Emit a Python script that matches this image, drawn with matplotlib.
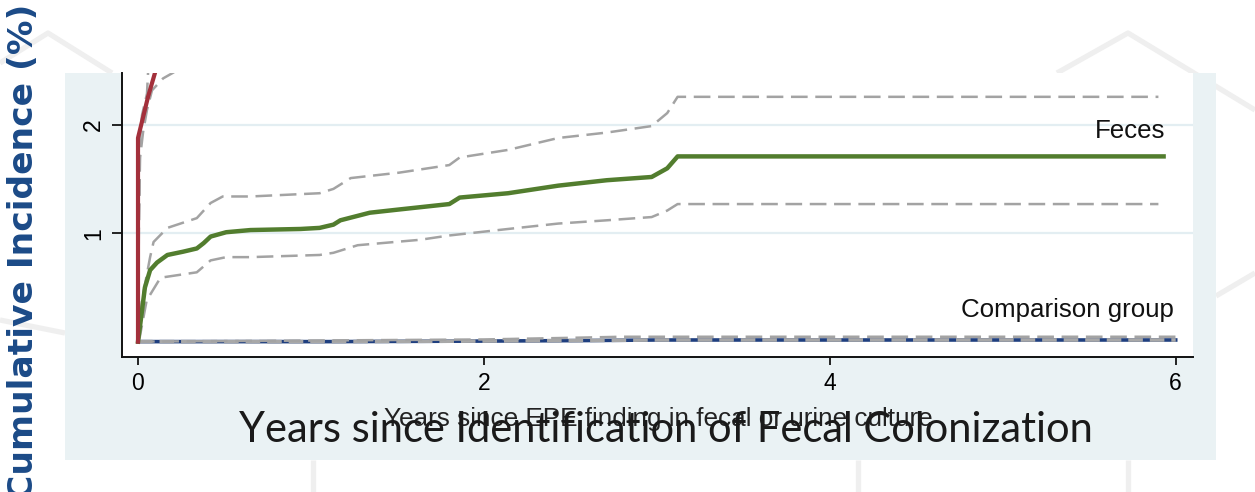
import numpy as np
import matplotlib
matplotlib.use("Agg")
import matplotlib.pyplot as plt
from matplotlib.lines import Line2D
from matplotlib.patches import Rectangle

plt.rcParams['lines.scale_dashes'] = False

# cumulative incidence curves (years, %)
urine_x = [0, 0, 0.029, 0.058, 0.098, 0.14]
urine_y = [0, 1.88, 2.07, 2.26, 2.48, 2.75]
urine_hi_x = [0, 0.006, 0.012, 0.023, 0.052, 0.058, 0.075]
urine_hi_y = [0, 1.2, 1.88, 2.09, 2.29, 2.48, 2.8]
urine_lo_x = [0, 0.004, 0.012, 0.029, 0.052, 0.081, 0.145, 0.2, 0.3]
urine_lo_y = [0, 1.0, 1.7, 1.93, 2.14, 2.32, 2.43, 2.48, 2.58]

feces_x = [0, 0.021, 0.04, 0.07, 0.11, 0.17, 0.26, 0.34, 0.38, 0.42, 0.51, 0.65,
           0.94, 1.05, 1.13, 1.17, 1.34, 1.51, 1.80, 1.86, 2.14, 2.43, 2.71, 2.97,
           3.06, 3.12, 5.93]
feces_y = [0, 0.26, 0.50, 0.66, 0.73, 0.80, 0.83, 0.86, 0.91, 0.97, 1.01, 1.03,
           1.04, 1.05, 1.08, 1.12, 1.19, 1.22, 1.27, 1.33, 1.37, 1.44, 1.49, 1.52,
           1.60, 1.71, 1.71]
feces_hi_x = [0, 0.01, 0.023, 0.07, 0.09, 0.17, 0.34, 0.42, 0.49, 0.65, 1.05, 1.13,
              1.23, 1.51, 1.80, 1.86, 2.14, 2.43, 2.71, 2.97, 3.06, 3.12, 5.9]
feces_hi_y = [0, 0.2, 0.38, 0.78, 0.92, 1.05, 1.14, 1.28, 1.34, 1.34, 1.37, 1.41,
              1.51, 1.56, 1.63, 1.70, 1.77, 1.88, 1.93, 1.99, 2.11, 2.26, 2.26]
feces_lo_x = [0, 0.01, 0.05, 0.13, 0.34, 0.42, 0.51, 0.65, 1.05, 1.13, 1.27, 1.63,
              1.80, 2.14, 2.43, 2.71, 2.97, 3.06, 3.12, 5.9]
feces_lo_y = [0, 0.04, 0.38, 0.59, 0.64, 0.75, 0.78, 0.78, 0.80, 0.82, 0.89, 0.94,
              0.98, 1.04, 1.09, 1.12, 1.15, 1.21, 1.27, 1.27]

comp_x = [0, 1.1, 2.0, 2.6, 3.0, 6.0]
comp_y = [0, 0.0, 0.005, 0.01, 0.015, 0.015]
comp_hi_x = [0, 1.0, 1.5, 2.0, 2.5, 2.8, 6.0]
comp_hi_y = [0, 0.01, 0.015, 0.02, 0.035, 0.045, 0.045]

xticks = [0, 2, 4, 6]
yticks = [1, 2]

W, H = 1255, 492


def fx(px):
    return px / W


def fy(py):
    return 1 - py / H


fig = plt.figure(figsize=(W / 100, H / 100), dpi=100)
fig.patch.set_facecolor('white')

# faint house outlines in the slide background
deco = '#efefef'
for xs, ys in [([0, 48, 112], [63, 33, 73]),
               ([1057, 1128, 1255], [73, 33, 110]),
               ([1216, 1255], [296, 273]),
               ([0, 65], [320, 333]),
               ([313, 313], [460, 492]),
               ([858, 858], [460, 492]),
               ([1128, 1128], [460, 492])]:
    fig.add_artist(Line2D([fx(v) for v in xs], [fy(v) for v in ys],
                          color=deco, lw=3.8, solid_capstyle='butt', zorder=0))

# graph region
fig.add_artist(Rectangle((fx(65), fy(460)), fx(1216) - fx(65), fy(73) - fy(460),
                         transform=fig.transFigure, facecolor='#eaf2f4',
                         edgecolor='none', zorder=1))

ax = fig.add_axes([fx(122), fy(357), fx(1193) - fx(122), fy(73) - fy(357)])
ax.set_zorder(2)
ax.set_facecolor('white')
ax.set_xlim(-0.0925, 6.1)
ax.set_ylim(-0.142, 2.48)

for v in yticks:
    ax.axhline(v, color='#e3eef2', lw=1.6, zorder=0)

ci_style = dict(color='#a3a3a3', lw=1.8, dashes=(12, 5.5), zorder=4)

# comparison group
ax.plot(comp_x, comp_y, color='#1f3f7f', lw=2.6, zorder=3)
ax.plot(comp_x, comp_y, color='#a8a8a8', lw=2.6, dashes=(10.5, 5), zorder=4)
ax.plot(comp_hi_x, comp_hi_y, **ci_style)

# feces
ax.plot(feces_x, feces_y, color='#527d2e', lw=3.2, zorder=5)
ax.plot(feces_hi_x, feces_hi_y, **ci_style)
ax.plot(feces_lo_x, feces_lo_y, **ci_style)

# urine
ax.plot(urine_x, urine_y, color='#a3303b', lw=3, zorder=5)
ax.plot(urine_hi_x, urine_hi_y, **ci_style)
ax.plot(urine_lo_x, urine_lo_y, **ci_style)

lab_font = dict(family='Liberation Sans', fontsize=18.6, color='#111111')
ax.text(5.94, 1.94, 'Feces', ha='right', va='center', **lab_font)
ax.text(5.99, 0.29, 'Comparison group', ha='right', va='center', **lab_font)

for s in ['top', 'right']:
    ax.spines[s].set_visible(False)
for s in ['left', 'bottom']:
    ax.spines[s].set_linewidth(1.4)
    ax.spines[s].set_color('#111111')

ax.set_xticks(xticks)
ax.set_yticks(yticks)
ax.set_xticklabels([str(t) for t in xticks], family='Liberation Sans', fontsize=16.5)
ax.set_yticklabels([str(t) for t in yticks], family='Liberation Sans', fontsize=16.5,
                   rotation=90, va='center')
ax.tick_params(axis='x', length=6, width=1.2, pad=5)
ax.tick_params(axis='y', length=7, width=1.2, pad=5)

fig.text(fx(658), fy(419), 'Years since EPE finding in fecal or urine culture',
         ha='center', va='center', family='Liberation Sans', fontsize=18.8,
         color='#222222', zorder=3)
fig.text(fx(666), fy(430), 'Years since Identification of Fecal Colonization',
         ha='center', va='center', family='Lato', fontweight='normal', fontsize=30,
         color='#1a1a1a', zorder=4)

fig.text(fx(24), fy(252), 'Cumulative Incidence (%)', rotation=90,
         ha='center', va='center', family='DejaVu Sans', fontweight='bold',
         fontsize=24.8, color='#1b4a87', zorder=5)

fig.savefig('out.png', dpi=100)
